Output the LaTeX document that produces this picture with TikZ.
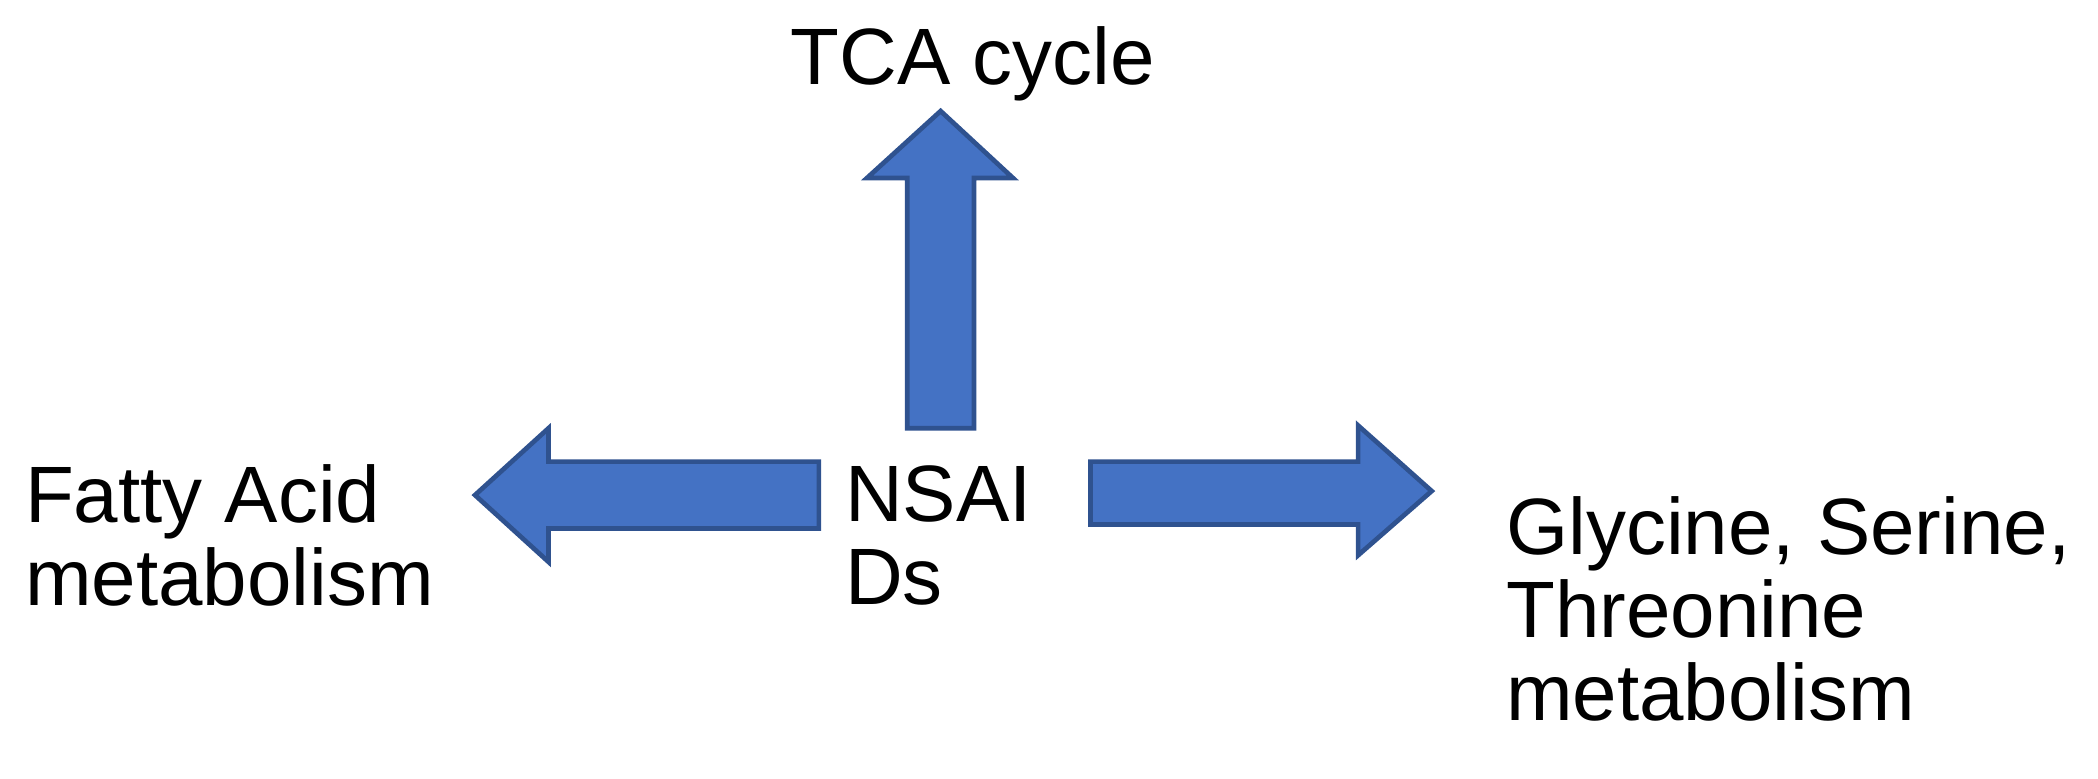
\documentclass[tikz,border=0pt]{standalone}
\usepackage{fontspec}
\setmainfont{Liberation Sans}
\definecolor{blockfill}{HTML}{4472C4}
\definecolor{blockline}{HTML}{2F528F}
\tikzset{
  blockarrow/.style={fill=blockfill,draw=blockline,line width=1pt,line join=miter},
  lbl/.style={font=\fontsize{17}{17.6}\selectfont,inner sep=0pt,align=left}
}
\begin{document}
\begin{tikzpicture}[x=1cm,y=1cm]
\useasboundingbox (0,0) rectangle (15.68,5.82);
\begin{scope}[yshift=-1.97cm]
% up arrow
\draw[blockarrow] (6.78,4.59) -- (6.78,6.46) -- (6.48,6.46) -- (7.03,6.96) -- (7.57,6.46) -- (7.28,6.46) -- (7.28,4.59) -- cycle;
% left arrow
\draw[blockarrow] (6.12,4.34) -- (4.10,4.34) -- (4.10,4.59) -- (3.55,4.09) -- (4.10,3.59) -- (4.10,3.84) -- (6.12,3.84) -- cycle;
% right arrow
\draw[blockarrow] (8.15,4.34) -- (10.15,4.34) -- (10.15,4.61) -- (10.70,4.12) -- (10.15,3.64) -- (10.15,3.87) -- (8.15,3.87) -- cycle;
\node[lbl,anchor=center] (tca) at (7.27,7.31) {TCA cycle};
\node[lbl,anchor=west] (fa) at (0.18,3.79) {Fatty Acid\\metabolism};
\node[lbl,anchor=west] (ns) at (6.31,3.79) {NSAI\\Ds};
\node[lbl,anchor=west] (gly) at (11.25,3.24) {Glycine, Serine,\\Threonine\\metabolism};
\end{scope}
\end{tikzpicture}
\end{document}
